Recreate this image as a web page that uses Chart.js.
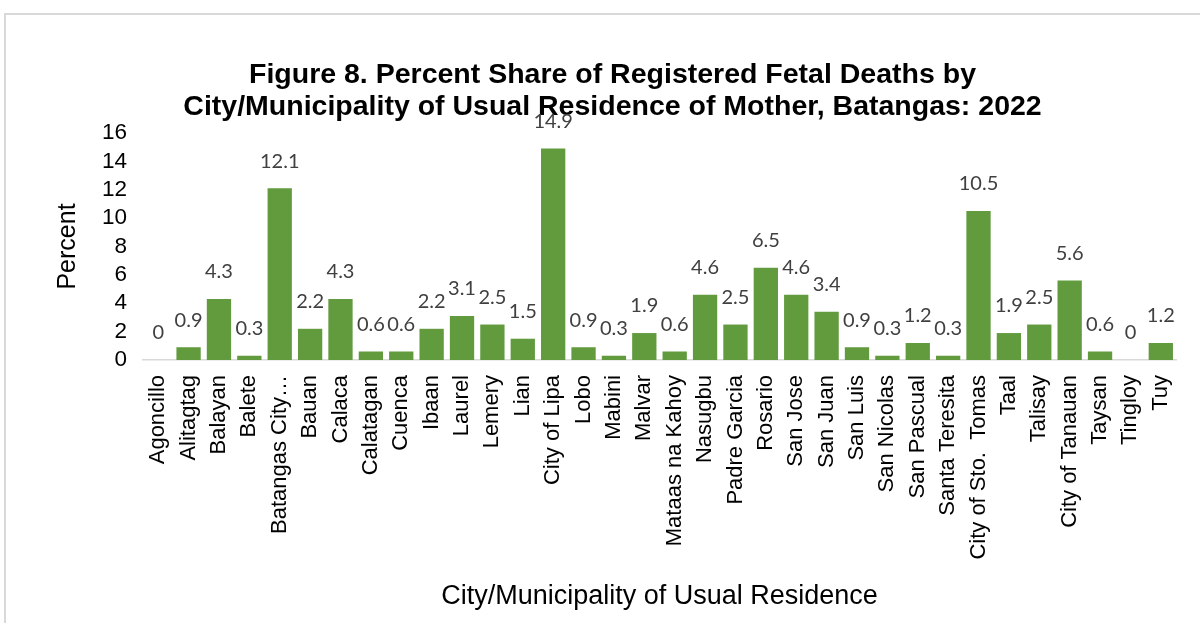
<!DOCTYPE html>
<html>
<head>
<meta charset="utf-8">
<script src="https://cdn.jsdelivr.net/npm/chart.js@4"></script>
<style>
  html, body { margin: 0; padding: 0; background: #fff; }
  #wrap { position: relative; width: 1200px; height: 623px; }
  #frame { position: absolute; left: 4px; top: 13px; right: -10px; bottom: -10px;
           border-top: 2px solid #d9d9d9; border-left: 2px solid #d9d9d9; }
  canvas { position: absolute; left: 0; top: 0; }
</style>
</head>
<body>
<div id="wrap">
  <div id="frame"></div>
  <canvas id="chart" width="1200" height="623"></canvas>
</div>
<script>
// Categories and values
const places = [
    'Agoncillo', 'Alitagtag', 'Balayan', 'Balete', 'Batangas City…', 'Bauan',
    'Calaca', 'Calatagan', 'Cuenca', 'Ibaan', 'Laurel', 'Lemery', 'Lian',
    'City of Lipa', 'Lobo', 'Mabini', 'Malvar', 'Mataas na Kahoy', 'Nasugbu',
    'Padre Garcia', 'Rosario', 'San Jose', 'San Juan', 'San Luis', 'San Nicolas',
    'San Pascual', 'Santa Teresita', 'City of Sto.  Tomas', 'Taal', 'Talisay',
    'City of Tanauan', 'Taysan', 'Tingloy', 'Tuy'
];
const percentShare = [
    0, 0.9, 4.3, 0.3, 12.1, 2.2,
    4.3, 0.6, 0.6, 2.2, 3.1, 2.5, 1.5,
    14.9, 0.9, 0.3, 1.9, 0.6, 4.6,
    2.5, 6.5, 4.6, 3.4, 0.9, 0.3,
    1.2, 0.3, 10.5, 1.9, 2.5,
    5.6, 0.6, 0, 1.2
];
const yTicks = [0, 2, 4, 6, 8, 10, 12, 14, 16];

const FONT = '"Liberation Sans", Arial, sans-serif';

// draw value labels above each bar
const valueLabels = {
    id: 'valueLabels',
    afterDatasetsDraw(chart) {
        const ctx = chart.ctx;
        const meta = chart.getDatasetMeta(0);
        ctx.save();
        ctx.font = '20px Lato, "Open Sans", sans-serif';
        ctx.fillStyle = '#404040';
        ctx.textAlign = 'center';
        ctx.textBaseline = 'middle';
        meta.data.forEach((bar, i) => {
            ctx.fillText(String(percentShare[i]), bar.x, bar.y - 27);
        });
        ctx.restore();
    }
};

const ctx = document.getElementById('chart').getContext('2d');
new Chart(ctx, {
    type: 'bar',
    data: {
        labels: places,
        datasets: [{
            data: percentShare,
            backgroundColor: '#629b3e',
            categoryPercentage: 1,
            barPercentage: 0.8
        }]
    },
    options: {
        responsive: false,
        animation: false,
        layout: { padding: { left: 49, right: 24, top: 0, bottom: 6 } },
        plugins: {
            legend: { display: false },
            tooltip: { enabled: false },
            title: {
                display: true,
                text: ['Figure 8. Percent Share of Registered Fetal Deaths by',
                       'City/Municipality of Usual Residence of Mother, Batangas: 2022'],
                color: '#000',
                font: { family: FONT, size: 28.5, weight: 'bold', lineHeight: 1.123 },
                padding: { top: 59, bottom: 10 }
            }
        },
        scales: {
            x: {
                grid: { display: false },
                border: { color: '#d9d9d9', width: 1.5 },
                ticks: {
                    autoSkip: false,
                    minRotation: 90,
                    maxRotation: 90,
                    padding: 7,
                    color: '#000',
                    font: { family: FONT, size: 22 }
                },
                title: {
                    display: true,
                    text: 'City/Municipality of Usual Residence',
                    color: '#000',
                    font: { family: FONT, size: 27 },
                    padding: { top: 4, bottom: 4 }
                },
                afterFit(scale) { scale.height = 623 - 6 - 360; }
            },
            y: {
                min: 0,
                max: 16,
                grid: { display: false },
                border: { display: false },
                afterBuildTicks(scale) { scale.ticks = yTicks.map(v => ({ value: v })); },
                ticks: {
                    autoSkip: false,
                    padding: 8,
                    color: '#000',
                    font: { family: FONT, size: 22.5 }
                },
                title: {
                    display: true,
                    text: 'Percent',
                    color: '#000',
                    font: { family: FONT, size: 25 },
                    padding: 4
                },
                afterFit(scale) { scale.width = 143 - 49; }
            }
        }
    },
    plugins: [valueLabels]
});
</script>
</body>
</html>
